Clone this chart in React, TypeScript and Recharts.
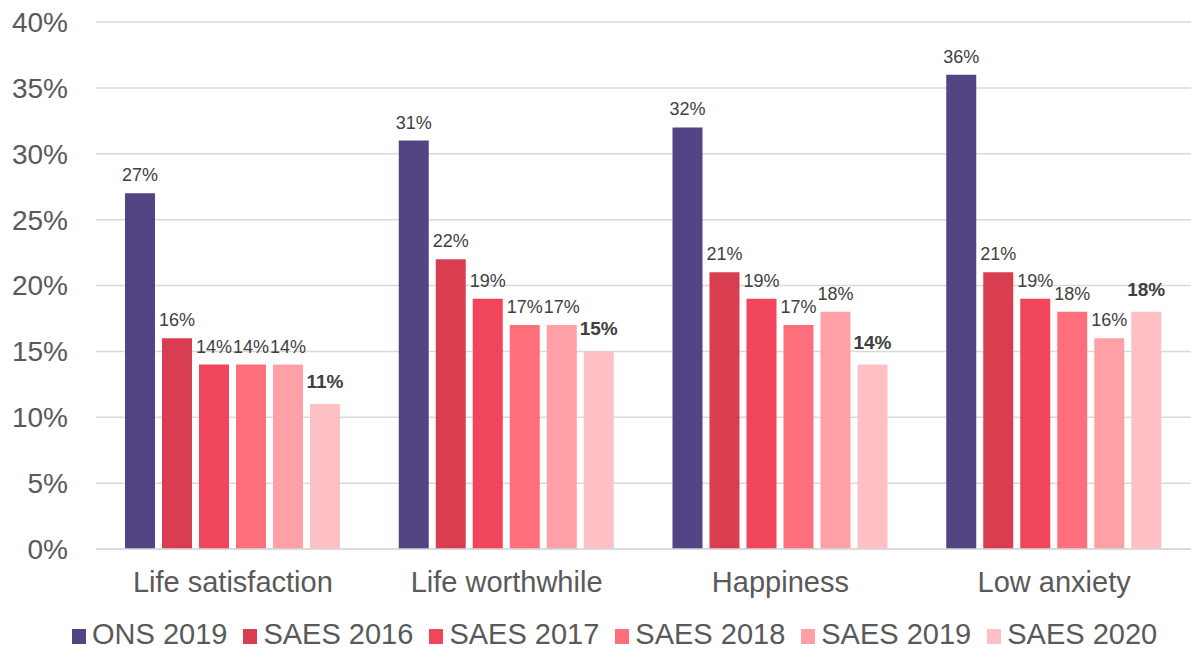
import React from 'react';
import { BarChart, Bar, XAxis, YAxis, CartesianGrid, Legend, LabelList } from 'recharts';

const categories = ['Life satisfaction', 'Life worthwhile', 'Happiness', 'Low anxiety'];
const ons2019 = [27, 31, 32, 36];
const saes2016 = [16, 22, 21, 21];
const saes2017 = [14, 19, 19, 19];
const saes2018 = [14, 17, 17, 18];
const saes2019 = [14, 17, 18, 16];
const saes2020 = [11, 15, 14, 18];
const yTicks = [0, 5, 10, 15, 20, 25, 30, 35, 40];

const seriesNames = ['ONS 2019', 'SAES 2016', 'SAES 2017', 'SAES 2018', 'SAES 2019', 'SAES 2020'];
const seriesKeys = ['ons2019', 'saes2016', 'saes2017', 'saes2018', 'saes2019', 'saes2020'];
const seriesColors = ['#534584', '#D93D50', '#F0455A', '#FF6F7B', '#FF9FA6', '#FFC0C5'];
const seriesBold = [false, false, false, false, false, true];

const data = categories.map((c, i) => ({
  category: c,
  ons2019: ons2019[i],
  saes2016: saes2016[i],
  saes2017: saes2017[i],
  saes2018: saes2018[i],
  saes2019: saes2019[i],
  saes2020: saes2020[i],
}));

const FONT = '"Liberation Sans", Arial, sans-serif';

const renderLegend = () => (
  <div
    style={{
      display: 'flex',
      alignItems: 'baseline',
      paddingLeft: 72,
      fontFamily: FONT,
      fontSize: 29,
      lineHeight: '24px',
      height: 24,
      color: '#595959',
      whiteSpace: 'nowrap',
    }}
  >
    {seriesNames.map((n, i) => (
      <span key={n} style={{ marginRight: 16, display: 'inline-block' }}>
        <span
          style={{
            display: 'inline-block',
            width: 14,
            height: 15,
            background: seriesColors[i],
            marginRight: 6,
            verticalAlign: 'baseline',
          }}
        />
        {n}
      </span>
    ))}
  </div>
);

export default function App() {
  return (
    <div style={{ position: 'absolute', left: 0, top: 0, width: 1191, height: 650, background: '#fff' }}>
      <BarChart
        width={1191}
        height={650}
        data={data}
        margin={{ top: 22, right: 0, left: 0, bottom: 0 }}
        barSize={30}
        barGap={7}
      >
        <CartesianGrid vertical={false} stroke="#d9d9d9" strokeWidth={1.5} />
        <XAxis
          dataKey="category"
          axisLine={{ stroke: '#d9d9d9', strokeWidth: 1.5 }}
          tickLine={false}
          tickSize={0}
          tickMargin={22}
          height={77}
          interval={0}
          tick={{ fill: '#595959', fontSize: 29, fontFamily: FONT }}
        />
        <YAxis
          domain={[0, 40]}
          ticks={yTicks}
          tickFormatter={(v: number) => `${v}%`}
          axisLine={false}
          tickLine={false}
          tickSize={0}
          tickMargin={28}
          width={96}
          interval={0}
          tick={{ fill: '#595959', fontSize: 28, fontFamily: FONT }}
        />
        <Legend
          verticalAlign="bottom"
          content={renderLegend}
          wrapperStyle={{ position: 'absolute', left: 0, top: 622, width: 1191, height: 24 }}
        />
        {seriesKeys.map((k, i) => (
          <Bar key={k} dataKey={k} name={seriesNames[i]} fill={seriesColors[i]} isAnimationActive={false}>
            <LabelList
              dataKey={k}
              position="top"
              offset={seriesBold[i] ? 16 : 12}
              formatter={(v: number) => `${v}%`}
              style={{
                fill: '#404040',
                fontSize: seriesBold[i] ? 19 : 18,
                fontWeight: seriesBold[i] ? 'bold' : 'normal',
                fontFamily: FONT,
              }}
            />
          </Bar>
        ))}
      </BarChart>
    </div>
  );
}
